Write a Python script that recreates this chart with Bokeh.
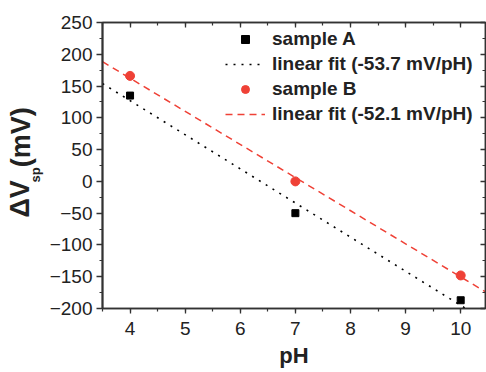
import numpy as np
from bokeh.plotting import figure
from bokeh.layouts import row
from bokeh.core.properties import value
from bokeh.models import (Range1d, LinearAxis, SingleIntervalTicker,
                          Legend, LegendItem, CustomJSTickFormatter)
from bokeh.embed import file_html
from bokeh.resources import INLINE

# ---- data ----
ph = [4, 7, 10]
sample_a = [135, -50, -187]
sample_b = [166, 0, -148]
slope_a = -53.7
slope_b = -52.1
name_a = "sample A"
name_b = "sample B"
fit_name_a = "linear fit (-53.7 mV/pH)"
fit_name_b = "linear fit (-52.1 mV/pH)"
x_label = "pH"
y_label_main = "\u0394V"
y_label_sub = "sp"
y_label_unit = "(mV)"

x_start, x_end = 3.5, 10.45
y_start, y_end = -200, 250

FONT = "Liberation Sans"
DARK = "#222222"
AXC = "#333333"
RED = "#ef4136"

# ---- linear fits with the quoted slopes ----
xs = np.array([x_start, x_end])
xa = np.array(ph, dtype=float)
fit_a = np.mean(sample_a) + slope_a * (xs - xa.mean())
fit_b = np.mean(sample_b) + slope_b * (xs - xa.mean())

LEFT_W = 46
H = 372
p = figure(width=486 - LEFT_W, height=H, output_backend="svg",
           toolbar_location=None,
           x_range=Range1d(x_start, x_end), y_range=Range1d(y_start, y_end),
           min_border_left=98 - LEFT_W, min_border_right=1, min_border_top=22,
           min_border_bottom=64)
p.xgrid.visible = False
p.ygrid.visible = False
p.outline_line_color = AXC
p.outline_line_width = 1.5
p.background_fill_color = "white"
p.border_fill_color = "white"

xt = SingleIntervalTicker(interval=1, num_minor_ticks=2)
yt = SingleIntervalTicker(interval=50, num_minor_ticks=2)

bottom = p.below[0]
left = p.left[0]
bottom.ticker = xt
left.ticker = yt

blank = CustomJSTickFormatter(code="return ''")
top = LinearAxis(ticker=xt, formatter=blank)
right = LinearAxis(ticker=yt, formatter=blank)
p.add_layout(top, "above")
p.add_layout(right, "right")

for ax in [bottom, left, top, right]:
    ax.axis_line_color = AXC
    ax.axis_line_width = 1.5
    ax.major_tick_line_color = AXC
    ax.minor_tick_line_color = AXC
    ax.major_tick_line_width = 1.3
    ax.minor_tick_line_width = 1.2
    ax.major_label_text_font = FONT
    ax.major_label_text_font_size = "19px"
    ax.major_label_text_color = DARK

left.axis_line_width = 2
bottom.major_tick_out = 5
left.major_tick_out = 6
for ax in [bottom, left]:
    ax.major_tick_in = 0
    ax.minor_tick_out = 3
    ax.minor_tick_in = 0
bottom.major_label_standoff = 8
left.major_label_standoff = 4

bottom.axis_label = x_label
bottom.axis_label_text_font = FONT
bottom.axis_label_text_font_size = "22px"
bottom.axis_label_text_font_style = "bold"
bottom.axis_label_text_color = DARK
bottom.axis_label_standoff = 5

for ax in [top, right]:
    ax.major_tick_out = 0
    ax.major_tick_in = 5
    ax.minor_tick_out = 0
    ax.minor_tick_in = 3
    ax.major_label_standoff = 0

# ---- data glyphs ----
r_fa = p.line(xs, fit_a, line_color="black", line_width=1.6, line_dash="2 6")
r_fb = p.line(xs, fit_b, line_color=RED, line_width=1.5, line_dash="7 5")
r_a = p.scatter(ph, sample_a, marker="square", size=7, color="black")
r_b = p.scatter(ph, sample_b, marker="circle", size=9, color=RED)

legend = Legend(items=[
    LegendItem(label=name_a, renderers=[r_a]),
    LegendItem(label=fit_name_a, renderers=[r_fa]),
    LegendItem(label=name_b, renderers=[r_b]),
    LegendItem(label=fit_name_b, renderers=[r_fb]),
], location=(123, 183))
legend.label_text_font = FONT
legend.label_text_font_size = "19px"
legend.label_text_font_style = "bold"
legend.label_text_color = DARK
legend.glyph_width = 40
legend.glyph_height = 20
legend.label_height = 20
legend.label_standoff = 7
legend.spacing = 3
legend.padding = 0
legend.margin = 0
legend.border_line_alpha = 0
legend.background_fill_alpha = 0
p.add_layout(legend)

# ---- y-axis title in a narrow side panel ----
T_SPAN = 334  # vertical extent of this panel's drawing area (measured)
t = figure(width=LEFT_W, height=H, output_backend="svg",
           toolbar_location=None, title=None,
           x_axis_location=None, y_axis_location=None,
           x_range=Range1d(0, LEFT_W), y_range=Range1d(T_SPAN, 0),
           min_border=0, min_border_left=0, min_border_right=0,
           min_border_top=0, min_border_bottom=0)
t.grid.visible = False
t.outline_line_color = None
t.background_fill_color = "white"
t.border_fill_color = "white"

# centre of each piece, top-down pixels
t.text(x=[19, 20], y=[206, 134], text=[y_label_main, y_label_unit],
       angle=np.pi / 2, text_font=value(FONT), text_font_size="27px",
       text_font_style="bold", text_color=DARK, text_align="center",
       text_baseline="middle")
t.text(x=[35], y=[178], text=[y_label_sub], angle=np.pi / 2,
       text_font=value(FONT), text_font_size="13px",
       text_font_style="bold", text_color=DARK, text_align="center",
       text_baseline="middle")

layout = row(t, p, spacing=0)
open("out.html", "w").write(file_html(layout, INLINE))
